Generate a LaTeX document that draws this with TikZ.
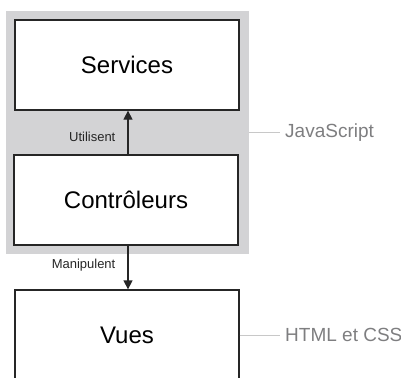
\documentclass[tikz,border=0pt]{standalone}
\usepackage{fontspec}
\setmainfont{Liberation Sans}
\usepackage{xcolor}
\usetikzlibrary{positioning,arrows.meta}

\definecolor{layergray}{HTML}{D3D3D5}
\definecolor{sidegray}{HTML}{7E7E80}
\definecolor{sideline}{HTML}{C8C8C8}

\begin{document}
\begin{tikzpicture}[x=1pt,y=-1pt,
  every node/.style={font=\fontsize{24}{28}\selectfont},
  layer/.style={rectangle,draw=black!85,line width=1.3pt,fill=white,
    minimum width=224pt,minimum height=90pt,inner sep=0pt},
  jsbox/.style={rectangle,fill=layergray,minimum width=243pt,minimum height=243pt,inner sep=0pt},
  verb/.style={font=\fontsize{13}{15}\selectfont,text=black!85,inner sep=2pt},
  tech/.style={font=\fontsize{19}{22}\selectfont,text=sidegray,anchor=west,inner sep=5pt},
  link/.style={line width=1.3pt,draw=black!85,-{Triangle[length=9pt,width=9pt]}},
  techline/.style={line width=1pt,draw=sideline}]
  \useasboundingbox (0,0) rectangle (401,377);
  \clip (0,0) rectangle (401,377);
  % couche JavaScript
  \node[jsbox] (js) at (127,132.5) {};
  \node[layer] (services) at (127,65) {Services};
  \node[layer] (ctrl) at (126,200) {Contrôleurs};
  \node[layer] (vues) at (127,335) {Vues};
  % relations
  \draw[link] (ctrl.north -| 128,0) -- node[verb,pos=.4,left=10pt] {Utilisent} (services.south -| 128,0);
  \draw[link] (ctrl.south -| 128,0) -- node[verb,pos=.45,left=10pt] {Manipulent} (vues.north -| 128,0);
  % technologies
  \node[tech] (jslabel) at (280,132.5) {JavaScript};
  \node[tech] (htmllabel) at (280,335) {HTML et CSS};
  \draw[techline] (js.east) -- (jslabel.west);
  \draw[techline] (vues.east) -- (htmllabel.west);
\end{tikzpicture}
\end{document}
